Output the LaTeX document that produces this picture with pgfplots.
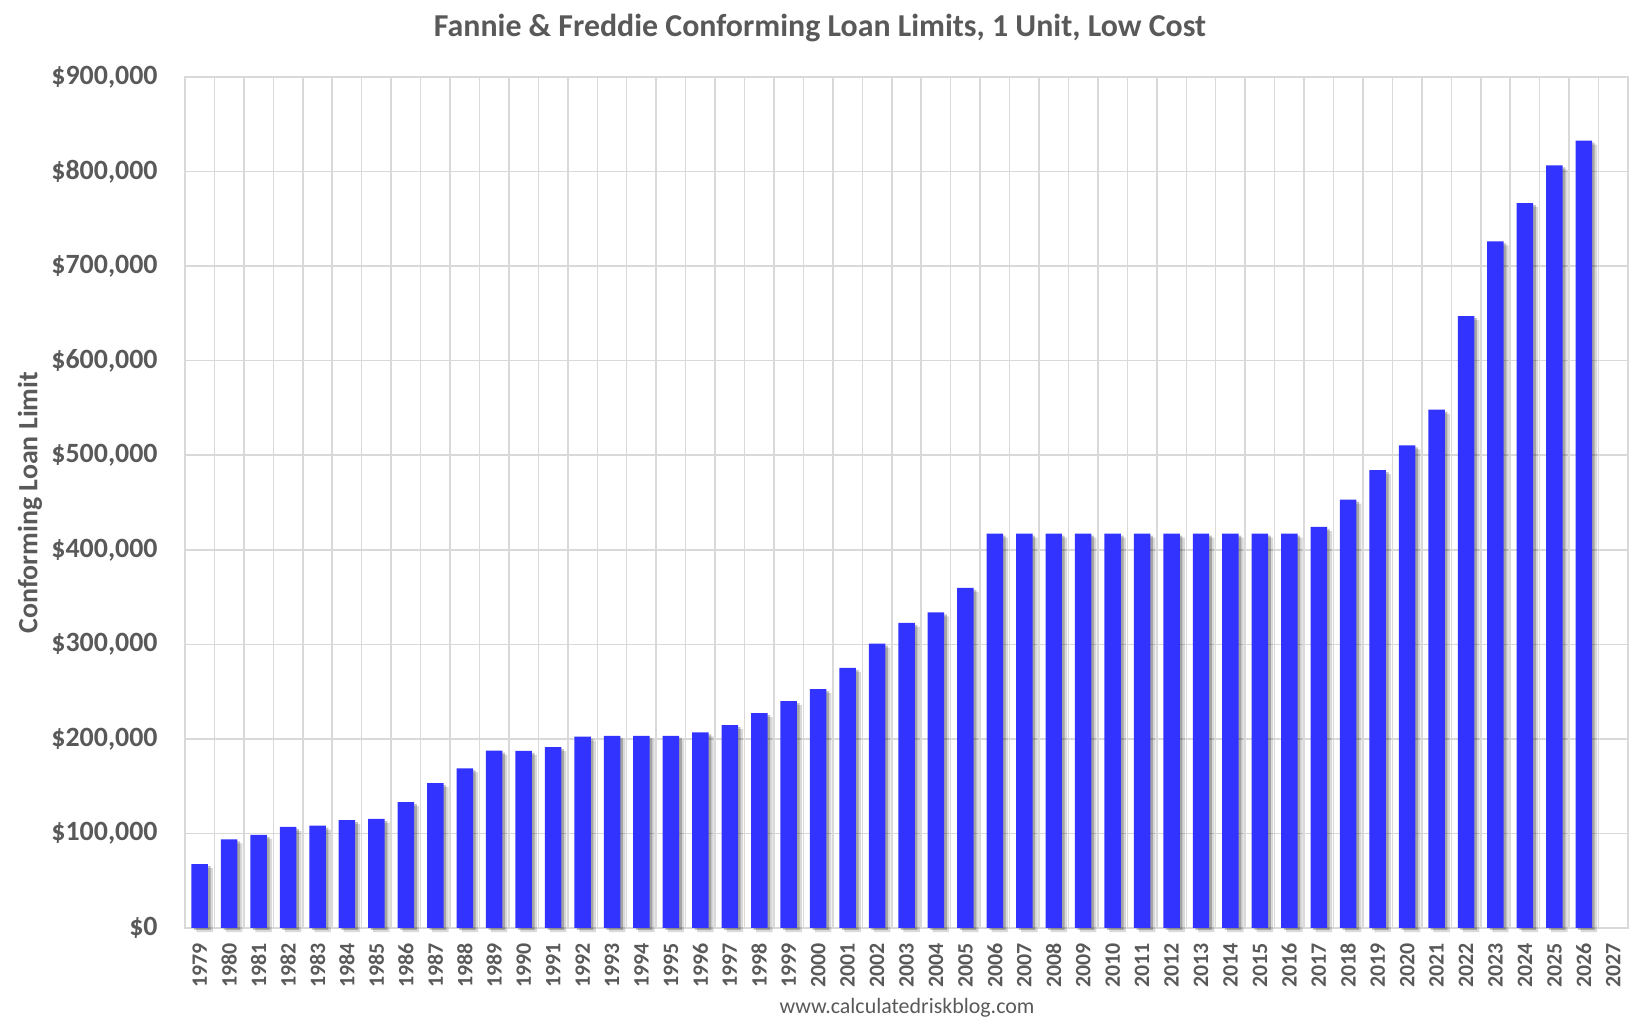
\documentclass[border=0pt]{standalone}
\usepackage{pgfplots}
\pgfplotsset{compat=1.18}
\usepackage{fontspec}
\setmainfont{Carlito}
\definecolor{txt}{HTML}{595959}
\definecolor{gridc}{HTML}{D9D9D9}
\definecolor{barc}{HTML}{3333FF}
\begin{document}
\begin{tikzpicture}
\begin{axis}[
  at={(0,0)}, anchor=south west,
  scale only axis, width=721.5bp, height=425.5bp,
  xmin=-0.5, xmax=48.5, ymin=0, ymax=900000,
  xtick={0,...,48},
  xticklabels={1979,1980,1981,1982,1983,1984,1985,1986,1987,1988,1989,1990,1991,1992,1993,1994,1995,1996,1997,1998,1999,2000,2001,2002,2003,2004,2005,2006,2007,2008,2009,2010,2011,2012,2013,2014,2015,2016,2017,2018,2019,2020,2021,2022,2023,2024,2025,2026,2027},
  minor xtick={-0.5,0.5,...,48.5},
  xminorgrids=true, xmajorgrids=false, ymajorgrids=true,
  ytick={0,100000,...,900000},
  major tick length=0pt, minor tick length=0pt,
  grid style={draw=gridc, line width=0.75bp},
  minor grid style={draw=gridc, line width=0.75bp},
  axis line style={draw=gridc, line width=0.8bp},
  scaled y ticks=false,
  /pgf/number format/assume math mode=true,
  yticklabel={\$\pgfmathprintnumber[fixed,precision=0,1000 sep={,}]{\tick}},
  yticklabel style={font=\fontsize{14}{16}\selectfont\bfseries, text=txt, anchor=east, inner sep=0pt, xshift=-13.5bp},
  xticklabel style={font=\fontsize{11}{13}\selectfont\bfseries, text=txt, rotate=90, anchor=east, inner sep=0pt, inner xsep=7.5bp},
  ylabel={Conforming Loan Limit},
  every axis y label/.style={at={(axis description cs:-0.1074,0.5)}, rotate=90, anchor=center, font=\fontsize{14}{16}\selectfont\bfseries, text=txt},
  ybar, bar width=0.56,
  clip mode=individual,
]
\addplot[draw=none, fill=black, fill opacity=0.15, bar shift=0.17, yshift=-2bp, forget plot] coordinates {
(0,67500)(1,93750)(2,98500)(3,107000)(4,108300)(5,114000)(6,115300)(7,133250)(8,153100)(9,168700)
(10,187600)(11,187450)(12,191250)(13,202300)(14,203150)(15,203150)(16,203150)(17,207000)(18,214600)(19,227150)
(20,240000)(21,252700)(22,275000)(23,300700)(24,322700)(25,333700)(26,359650)(27,417000)(28,417000)(29,417000)
(30,417000)(31,417000)(32,417000)(33,417000)(34,417000)(35,417000)(36,417000)(37,417000)(38,424100)(39,453100)
(40,484350)(41,510400)(42,548250)(43,647200)(44,726200)(45,766550)(46,806500)(47,832750)};
\addplot[draw=none, fill=black, fill opacity=0.24, bar shift=0.09, yshift=-1bp, forget plot] coordinates {
(0,67500)(1,93750)(2,98500)(3,107000)(4,108300)(5,114000)(6,115300)(7,133250)(8,153100)(9,168700)
(10,187600)(11,187450)(12,191250)(13,202300)(14,203150)(15,203150)(16,203150)(17,207000)(18,214600)(19,227150)
(20,240000)(21,252700)(22,275000)(23,300700)(24,322700)(25,333700)(26,359650)(27,417000)(28,417000)(29,417000)
(30,417000)(31,417000)(32,417000)(33,417000)(34,417000)(35,417000)(36,417000)(37,417000)(38,424100)(39,453100)
(40,484350)(41,510400)(42,548250)(43,647200)(44,726200)(45,766550)(46,806500)(47,832750)};
\addplot[draw=none, fill=barc, bar shift=0] coordinates {
(0,67500)(1,93750)(2,98500)(3,107000)(4,108300)(5,114000)(6,115300)(7,133250)(8,153100)(9,168700)
(10,187600)(11,187450)(12,191250)(13,202300)(14,203150)(15,203150)(16,203150)(17,207000)(18,214600)(19,227150)
(20,240000)(21,252700)(22,275000)(23,300700)(24,322700)(25,333700)(26,359650)(27,417000)(28,417000)(29,417000)
(30,417000)(31,417000)(32,417000)(33,417000)(34,417000)(35,417000)(36,417000)(37,417000)(38,424100)(39,453100)
(40,484350)(41,510400)(42,548250)(43,647200)(44,726200)(45,766550)(46,806500)(47,832750)};
\end{axis}
\node[anchor=base, font=\fontsize{16}{19}\selectfont\bfseries, text=txt] at (317.5bp,445.5bp) {Fannie \& Freddie Conforming Loan Limits, 1 Unit, Low Cost};
\node[anchor=base, font=\fontsize{11}{13}\selectfont, text=txt] at (361bp,-42.5bp) {www.calculatedriskblog.com};
\useasboundingbox (-92.5bp,-50bp) rectangle (727.5bp,464bp);
\end{tikzpicture}
\end{document}
